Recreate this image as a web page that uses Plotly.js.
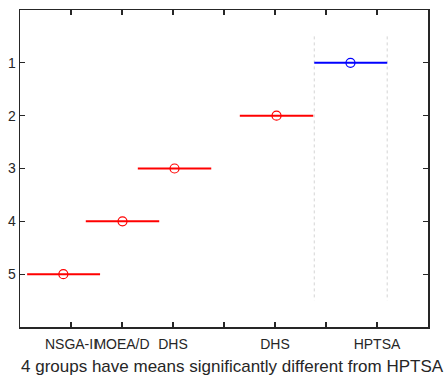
<!DOCTYPE html>
<html>
<head>
<meta charset="utf-8">
<script src="https://cdn.plot.ly/plotly-3.0.1.min.js"></script>
<style>html,body{margin:0;padding:0;background:#fff;}#chart{width:448px;height:377px;}</style>
</head>
<body>
<div id="chart"></div>
<script>
// Data (multcompare-style interval plot)
const groupRows = [1, 2, 3, 4, 5];
const groupMeans = [6.48, 5.03, 3.03, 2.01, 0.85];
const groupLower = [5.77, 4.31, 2.31, 1.29, 0.14];
const groupUpper = [7.20, 5.75, 3.75, 2.73, 1.57];
const groupColors = ['#0000ff', '#ff0000', '#ff0000', '#ff0000', '#ff0000'];
const xTickVals = [1, 2, 3, 4, 5, 6, 7];
const xTickText = ['NSGA-II', 'MOEA/D', 'DHS', '', 'DHS', '', 'HPTSA'];
const yTickVals = [1, 2, 3, 4, 5];
const refSpan = [0.5, 5.5];
const titleText = '4 groups have means significantly different from HPTSA';

const traces = [];
// dotted reference lines at the bounds of the compared group (row 1)
[groupLower[0], groupUpper[0]].forEach(v => {
  traces.push({
    x: [v, v], y: refSpan, mode: 'lines', type: 'scatter',
    line: {color: '#d4d4d4', width: 1, dash: 'dot'},
    hoverinfo: 'skip', showlegend: false
  });
});
// interval lines
groupRows.forEach((r, i) => {
  traces.push({
    x: [groupLower[i], groupUpper[i]], y: [r, r], mode: 'lines', type: 'scatter',
    line: {color: groupColors[i], width: 2},
    showlegend: false
  });
});
// mean markers
traces.push({
  x: groupMeans, y: groupRows, mode: 'markers', type: 'scatter',
  marker: {symbol: 'circle-open', size: 9, color: groupColors, line: {width: 1.2, color: groupColors}},
  showlegend: false
});

const fontFam = 'Liberation Sans, Arial, sans-serif';
const axisCommon = {
  showline: true, linecolor: '#262626', linewidth: 1.5, mirror: 'ticks',
  ticks: 'inside', ticklen: 5, tickwidth: 1.2, tickcolor: '#262626',
  showgrid: false, zeroline: false, tickangle: 0,
  tickfont: {family: fontFam, size: 14, color: '#262626'}
};

const layout = {
  width: 448, height: 377,
  margin: {l: 20, r: 20, t: 10, b: 50},
  paper_bgcolor: '#ffffff', plot_bgcolor: '#ffffff',
  showlegend: false,
  xaxis: Object.assign({}, axisCommon, {
    range: [0, 8], tickmode: 'array', tickvals: xTickVals, ticktext: xTickText,
    ticklabelstandoff: 4
  }),
  yaxis: Object.assign({}, axisCommon, {
    range: [6, 0], tickmode: 'array', tickvals: yTickVals, ticktext: yTickVals.map(String)
  }),
  annotations: [{
    text: titleText, xref: 'paper', yref: 'paper', x: 0.52, y: -0.125,
    xanchor: 'center', yanchor: 'middle', showarrow: false,
    font: {family: fontFam, size: 17, color: '#262626'}
  }]
};

Plotly.newPlot('chart', traces, layout, {displayModeBar: false, staticPlot: true});
</script>
</body>
</html>
